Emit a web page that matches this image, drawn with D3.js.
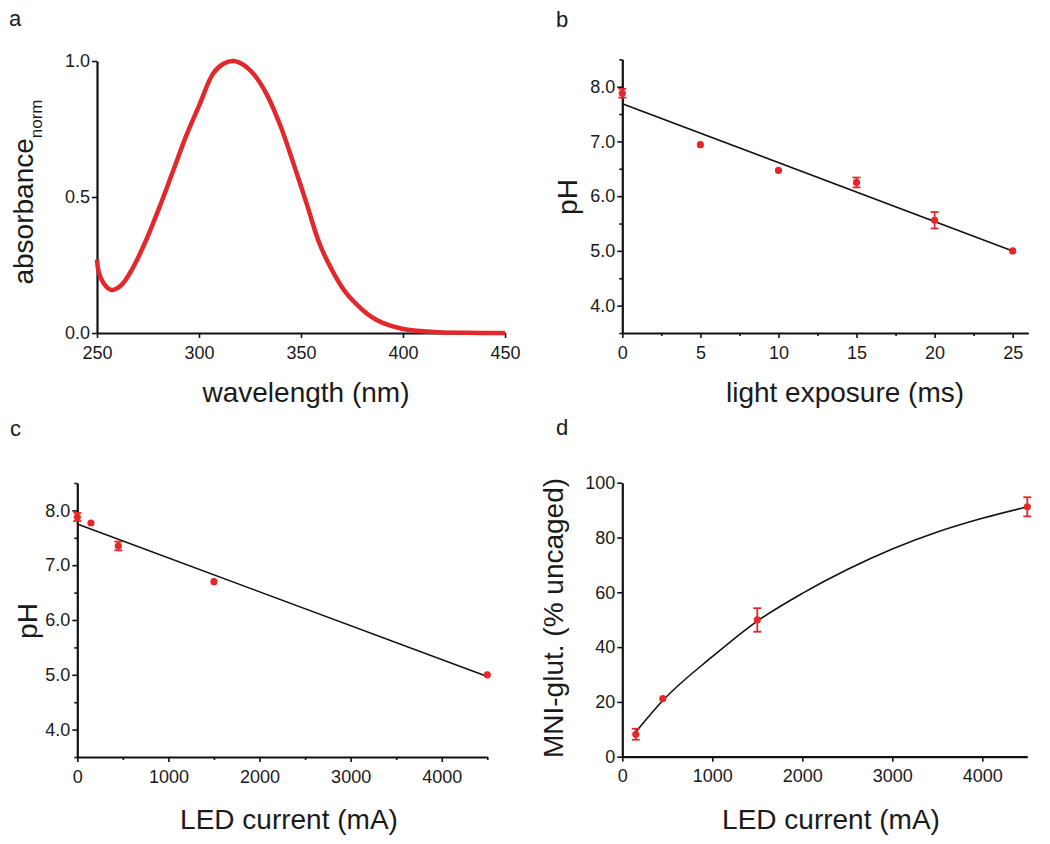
<!DOCTYPE html>
<html lang="en">
<head>
<meta charset="UTF-8">
<title>Absorbance, pH and uncaging</title>
<script src="https://cdn.jsdelivr.net/npm/d3@7/dist/d3.min.js"></script>
<style>
  body { margin: 0; background: #fff; }
  svg { font-family: "Liberation Sans", Arial, sans-serif; }
  .tick text { font-size: 18px; fill: #1a1a1a; }
  .title { font-size: 28px; fill: #1a1a1a; }
  .plabel { font-size: 22px; fill: #1a1a1a; }
</style>
</head>
<body>
<svg id="fig" width="1050" height="844"></svg>
<script>
// panel a: absorbance spectrum
var wavelength = [250, 251, 254, 257, 260, 263, 268, 274, 281, 287, 294, 300, 307, 312, 317, 322, 327, 333, 340, 346, 353, 359, 366, 372, 378, 384, 390, 400, 415, 431, 450];
var absorbance = [0.27, 0.22, 0.175, 0.158, 0.165, 0.185, 0.245, 0.34, 0.47, 0.59, 0.73, 0.835, 0.955, 0.99, 1.0, 0.985, 0.95, 0.88, 0.76, 0.63, 0.47, 0.33, 0.22, 0.148, 0.10, 0.062, 0.037, 0.015, 0.004, 0.001, 0.0];

// panel b: pH vs light exposure
var exposureMs = [0, 5, 10, 15, 20, 25];
var phB = [7.88, 6.94, 6.47, 6.25, 5.56, 5.0];
var phBErr = [0.08, 0, 0, 0.09, 0.15, 0];
var fitBx = [0, 25];
var fitBy = [7.69, 5.0];

// panel c: pH vs LED current
var currentC = [0, 150, 450, 1500, 4500];
var phC = [7.88, 7.77, 7.35, 6.70, 5.0];
var phCErr = [0.075, 0, 0.08, 0, 0];
var fitCx = [0, 4500];
var fitCy = [7.75, 4.97];

// panel d: uncaging vs LED current
var currentD = [150, 450, 1500, 4500];
var uncaged = [8.2, 21.2, 49.9, 91.2];
var uncagedErr = [2.0, 0, 4.3, 3.5];
var fitDx = [150, 450, 1000, 1500, 2000, 2500, 3000, 3500, 4000, 4500];
var fitDy = [9.0, 20.5, 36.5, 49.5, 59.6, 68.3, 75.8, 82.0, 87.0, 91.2];

var red = "#e3282c";
var svg = d3.select("#fig");

function drawAxes(o) {
    var g = svg.append("g");
    var y0 = o.y.range()[0], x0 = o.x.range()[0];

    g.append("g")
        .attr("transform", "translate(0," + y0 + ")")
        .call(d3.axisBottom(o.x).tickValues(o.xTicks).tickSize(5).tickSizeOuter(0)
            .tickPadding(8).tickFormat(o.xFmt));
    g.append("g")
        .attr("transform", "translate(" + x0 + ",0)")
        .call(d3.axisLeft(o.y).tickValues(o.yTicks).tickSize(5).tickSizeOuter(0)
            .tickPadding(2).tickFormat(o.yFmt));

    if (o.xMinor) {
        g.append("g")
            .attr("transform", "translate(0," + y0 + ")")
            .call(d3.axisBottom(o.x).tickValues(o.xMinor).tickSize(3).tickFormat(""))
            .select(".domain").remove();
    }
    if (o.yMinor) {
        g.append("g")
            .attr("transform", "translate(" + x0 + ",0)")
            .call(d3.axisLeft(o.y).tickValues(o.yMinor).tickSize(3).tickFormat(""))
            .select(".domain").remove();
    }
    g.selectAll(".domain").attr("stroke", "#111").attr("stroke-width", 2.2);
    g.selectAll(".tick line").attr("stroke", "#111").attr("stroke-width", 1.6);
    g.selectAll(".tick text").attr("font-family", null).attr("font-size", null);
    return g;
}

function drawPoints(x, y, xs, ys, errs) {
    var g = svg.append("g");
    var idx = d3.range(xs.length);
    var withErr = idx.filter(function (i) { return errs[i] > 0; });

    g.selectAll(".eb").data(withErr).enter().append("line")
        .attr("x1", function (i) { return x(xs[i]); })
        .attr("x2", function (i) { return x(xs[i]); })
        .attr("y1", function (i) { return y(ys[i] - errs[i]); })
        .attr("y2", function (i) { return y(ys[i] + errs[i]); })
        .attr("stroke", red).attr("stroke-width", 1.8);

    [-1, 1].forEach(function (s) {
        g.selectAll(".cap" + s).data(withErr).enter().append("line")
            .attr("x1", function (i) { return x(xs[i]) - 4; })
            .attr("x2", function (i) { return x(xs[i]) + 4; })
            .attr("y1", function (i) { return y(ys[i] + s * errs[i]); })
            .attr("y2", function (i) { return y(ys[i] + s * errs[i]); })
            .attr("stroke", red).attr("stroke-width", 1.8);
    });

    g.selectAll("circle").data(idx).enter().append("circle")
        .attr("cx", function (i) { return x(xs[i]); })
        .attr("cy", function (i) { return y(ys[i]); })
        .attr("r", 3.6)
        .attr("fill", red);
}

function drawLine(x, y, xs, ys, curve, color, width) {
    var line = d3.line()
        .x(function (d) { return x(d[0]); })
        .y(function (d) { return y(d[1]); })
        .curve(curve);
    svg.append("path")
        .datum(d3.zip(xs, ys))
        .attr("d", line)
        .attr("fill", "none")
        .attr("stroke", color)
        .attr("stroke-width", width)
        .attr("stroke-linejoin", "round");
}

function label(txt, x, y) {
    svg.append("text").attr("class", "plabel").attr("x", x).attr("y", y).text(txt);
}

function xTitle(txt, x, y) {
    svg.append("text").attr("class", "title").attr("x", x).attr("y", y)
        .attr("text-anchor", "middle").text(txt);
}

function yTitle(txt, x, y) {
    return svg.append("text").attr("class", "title")
        .attr("transform", "translate(" + x + "," + y + ") rotate(-90)")
        .attr("text-anchor", "middle").text(txt);
}

// ---- a ----
var xa = d3.scaleLinear().domain([250, 450]).range([97, 505]);
var ya = d3.scaleLinear().domain([0, 1]).range([333, 61]);
drawAxes({ x: xa, y: ya, xTicks: [250, 300, 350, 400, 450], yTicks: [0, 0.5, 1],
    xFmt: d3.format("d"), yFmt: d3.format(".1f") });
drawLine(xa, ya, wavelength, absorbance, d3.curveCatmullRom, red, 4.5);
label("a", 9, 26);
xTitle("wavelength (nm)", 306, 402);
var ta = svg.append("text").attr("class", "title")
    .attr("transform", "translate(33,192) rotate(-90)")
    .attr("text-anchor", "middle");
ta.append("tspan").text("absorbance");
ta.append("tspan").attr("font-size", "17px").attr("dy", 9).text("norm");

// ---- b ----
var xb = d3.scaleLinear().domain([0, 26]).range([622.3, 1028.3]);
var yb = d3.scaleLinear().domain([3.5, 8.5]).range([333, 59.3]);
drawAxes({ x: xb, y: yb, xTicks: [0, 5, 10, 15, 20, 25], yTicks: [4, 5, 6, 7, 8],
    xMinor: [2.5, 7.5, 12.5, 17.5, 22.5], yMinor: [3.5, 4.5, 5.5, 6.5, 7.5, 8.5],
    xFmt: d3.format("d"), yFmt: d3.format(".1f") });
drawLine(xb, yb, fitBx, fitBy, d3.curveLinear, "#111", 1.6);
drawPoints(xb, yb, exposureMs, phB, phBErr);
label("b", 556, 27);
xTitle("light exposure (ms)", 845, 402);
yTitle("pH", 577, 197);

// ---- c ----
var xc = d3.scaleLinear().domain([0, 4500]).range([77.3, 487.3]);
var yc = d3.scaleLinear().domain([3.5, 8.5]).range([757, 483]);
drawAxes({ x: xc, y: yc, xTicks: [0, 1000, 2000, 3000, 4000], yTicks: [4, 5, 6, 7, 8],
    xMinor: [500, 1500, 2500, 3500, 4500], yMinor: [3.5, 4.5, 5.5, 6.5, 7.5, 8.5],
    xFmt: d3.format("d"), yFmt: d3.format(".1f") });
drawLine(xc, yc, fitCx, fitCy, d3.curveLinear, "#111", 1.6);
drawPoints(xc, yc, currentC, phC, phCErr);
label("c", 10, 436);
xTitle("LED current (mA)", 289, 829);
yTitle("pH", 37, 621);

// ---- d ----
var xd = d3.scaleLinear().domain([0, 4500]).range([622.3, 1027.3]);
var yd = d3.scaleLinear().domain([0, 100]).range([756.7, 482.7]);
drawAxes({ x: xd, y: yd, xTicks: [0, 1000, 2000, 3000, 4000], yTicks: [0, 20, 40, 60, 80, 100],
    xFmt: d3.format("d"), yFmt: d3.format("d") });
drawLine(xd, yd, fitDx, fitDy, d3.curveMonotoneX, "#111", 1.6);
drawPoints(xd, yd, currentD, uncaged, uncagedErr);
label("d", 556, 435);
xTitle("LED current (mA)", 831, 829);
yTitle("MNI-glut. (% uncaged)", 563, 618);
</script>
</body>
</html>
